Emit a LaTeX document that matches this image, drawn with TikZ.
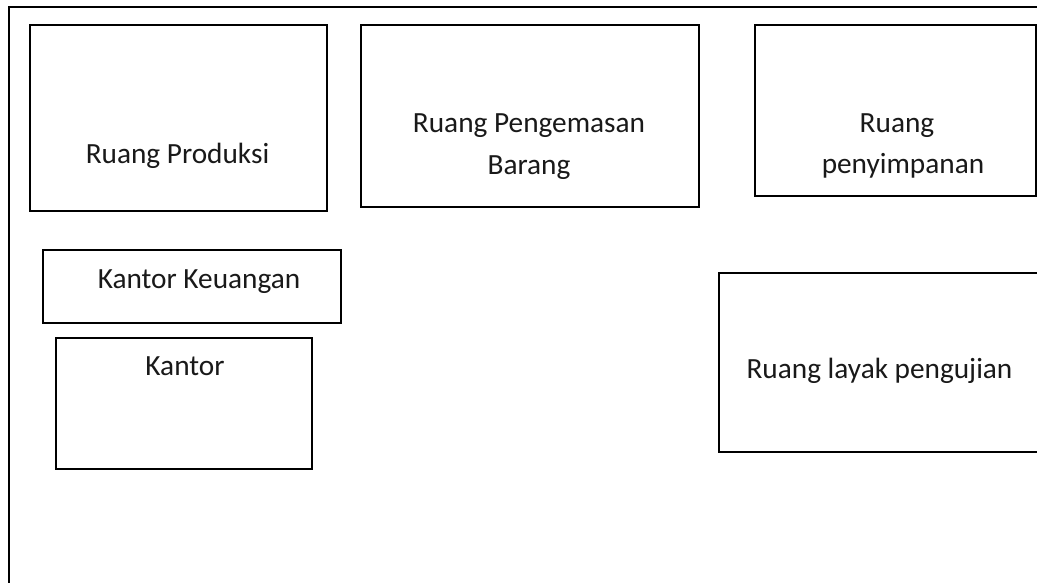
\documentclass[tikz,border=0pt]{standalone}
\usepackage{fontspec}
\setmainfont{Carlito}
\begin{document}
\begin{tikzpicture}[x=1pt,y=-1pt,
  room/.style={draw=black,line width=2pt,fill=white,rectangle,inner sep=0pt},
  lbl/.style={font=\fontsize{29.3}{42}\selectfont,align=center,anchor=base,inner sep=0pt,text=black!90}]
\useasboundingbox (0,0) rectangle (1037,582);
\clip (0,0) rectangle (1037,582);
% outer frame (cropped at right and bottom)
\draw[line width=2pt] (9,600) -- (9,7) -- (1060,7);
% rooms
\node[room,minimum width=297pt,minimum height=186pt] (prod) at (178.5,118) {};
\node[room,minimum width=338pt,minimum height=182pt] (kemas) at (530,116) {};
\node[room,minimum width=281pt,minimum height=171pt] (simpan) at (895.5,110.5) {};
\node[room,minimum width=298pt,minimum height=73pt] (keu) at (192,286.5) {};
\node[room,minimum width=256pt,minimum height=131pt] (kantor) at (184,403.5) {};
\node[room,minimum width=360pt,minimum height=179pt] (uji) at (899,362.5) {};
% labels
\node[lbl] (tprod) at (177.5,163) {Ruang Produksi};
\node[lbl] (tkemas1) at (529,132) {Ruang Pengemasan};
\node[lbl] (tkemas2) at (529,174) {Barang};
\node[lbl] (tsimpan1) at (897,132) {Ruang};
\node[lbl] (tsimpan2) at (903,173) {penyimpanan};
\node[lbl] (tkeu) at (199,288) {Kantor Keuangan};
\node[lbl] (tkantor) at (185,375) {Kantor};
\node[lbl] (tuji) at (879.5,378) {Ruang layak pengujian};
\end{tikzpicture}
\end{document}
